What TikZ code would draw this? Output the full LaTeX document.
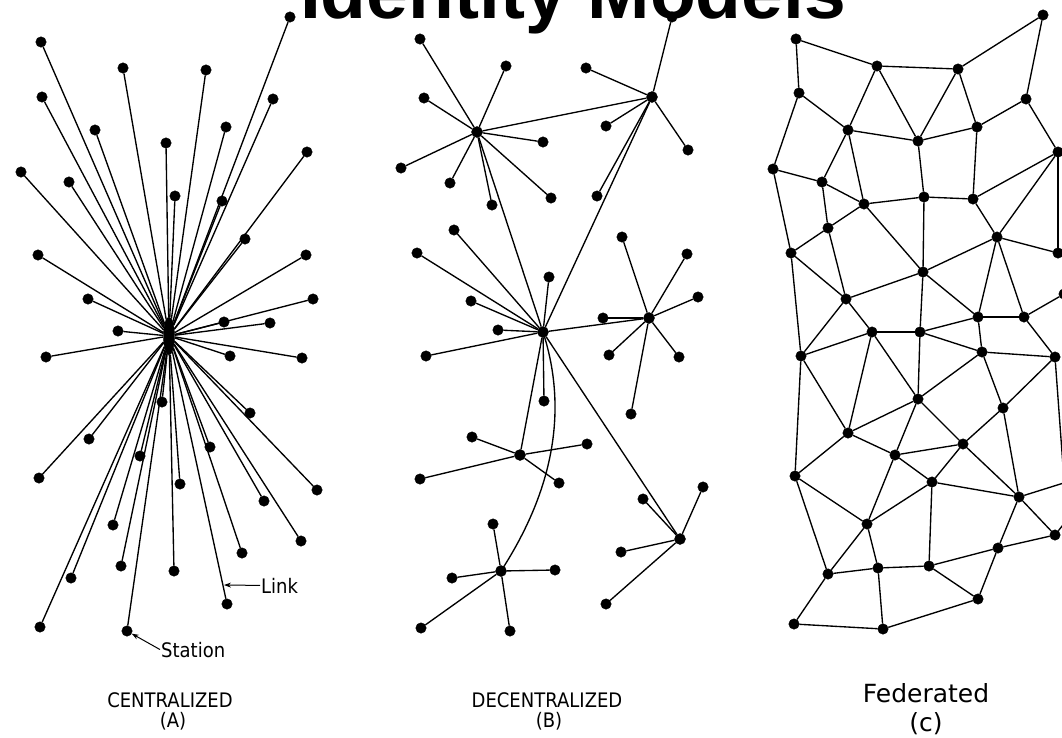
\documentclass[tikz,border=0pt]{standalone}
\usepackage{fontspec}
\setmainfont{DejaVu Sans}
\newfontfamily\titlefont{Liberation Sans}
\newfontfamily\letterfont{DejaVu Sans}[FakeStretch=0.9]
\usetikzlibrary{arrows.meta,shapes.geometric}

\newcommand*{\pw}{1062}
\newcommand*{\ph}{737}

\begin{document}
\begin{tikzpicture}
[
	x=1pt, y=-1pt,
	station/.style={circle,draw,fill,inner sep=0pt,minimum size=10.5pt},
	hubpt/.style={circle,draw,fill,inner sep=0pt,minimum size=11pt},
	centralhub/.style={ellipse,draw,fill,inner sep=0pt,minimum width=11pt,minimum height=38pt},
	link/.style={line width=1.35pt},
	pointer/.style={line width=1pt,-{Stealth[length=7pt,width=5pt]}},
	lettering/.style={font=\letterfont\fontsize{20}{24}\selectfont,anchor=base,inner sep=1pt},
	caption/.style={font=\fontsize{25}{30}\selectfont,anchor=base,inner sep=1pt}
]

	\useasboundingbox (0,0) rectangle (\pw,\ph);
	\clip (0,0) rectangle (\pw,\ph);

	% centralized (A)
	\node[centralhub] (hub) at (169,336) {};
	\foreach \x/\y [count=\i] in {41/42,123/68,206/70,290/17,42/97,273/99,95/130,226/127,
		166/143,307/152,21/172,69/182,175/196,222/201,245/239,38/255,306/255,88/299,313/299,
		224/322,270/323,118/331,46/357,230/356,302/358,162/402,250/413,89/439,210/447,140/456,
		39/478,180/484,317/490,264/501,113/525,301/541,242/553,121/566,174/571,71/578,227/604,
		40/627,127/631}
	{
		\node[station] (c\i) at (\x,\y) {};
		\draw[link] (hub) -- (c\i);
	}
	\coordinate (linkpt) at (224,585);
	\node[lettering,anchor=base west] (linklabel) at (260,593) {Link};
	\node[lettering,anchor=base west] (stationlabel) at (160,657) {Station};
	\draw[pointer] (linklabel.west) -- (linkpt);
	\draw[pointer] (stationlabel.west) -- (c43);

	% decentralized (B)
	\node[hubpt] (dh1) at (477,132) {};
	\node[hubpt] (dh2) at (652,97) {};
	\node[hubpt] (dh3) at (543,332) {};
	\node[hubpt] (dh4) at (649,318) {};
	\node[hubpt] (dh5) at (520,455) {};
	\node[hubpt] (dh6) at (501,571) {};
	\node[hubpt] (dh7) at (680,539) {};
	\foreach \a/\b in {dh1/dh2,dh1/dh3,dh2/dh3,dh3/dh4,dh3/dh5,dh3/dh7}
		\draw[link] (\a) -- (\b);
	\draw[link] (dh3.center) .. controls (565,400) and (560,480) .. (dh6.center);
	\foreach \x/\y/\h [count=\i] in {420/39/dh1,506/66/dh1,424/98/dh1,543/142/dh1,401/168/dh1,
		450/183/dh1,551/198/dh1,492/205/dh1,
		672/17/dh2,586/68/dh2,606/126/dh2,688/150/dh2,597/196/dh2,
		454/230/dh3,417/253/dh3,549/277/dh3,471/301/dh3,498/330/dh3,426/356/dh3,544/401/dh3,
		622/237/dh4,687/254/dh4,698/297/dh4,603/318/dh4,609/355/dh4,679/357/dh4,631/414/dh4,
		472/437/dh5,587/444/dh5,420/479/dh5,559/483/dh5,
		493/524/dh6,452/578/dh6,555/570/dh6,421/628/dh6,510/631/dh6,
		643/499/dh7,703/487/dh7,621/552/dh7,606/604/dh7}
	{
		\node[station] (d\i) at (\x,\y) {};
		\draw[link] (\h) -- (d\i);
	}

	% federated (c)
	\foreach \x/\y [count=\i] in {796/39,877/66,958/69,1043/15,799/93,1026/99,848/130,977/127,
		918/141,1058/152,773/169,822/182,864/204,924/197,973/199,828/228,997/237,791/253,
		1058/253,923/272,846/299,978/317,1024/317,1064/294,872/332,920/332,801/356,982/352,
		1055/357,918/399,1003/408,848/433,963/444,895/455,795/476,932/482,1019/497,867/524,
		1055/535,998/548,828/574,878/568,929/566,978/599,794/624,883/629}
		\node[station] (f\i) at (\x,\y) {};
	\coordinate (fx1) at (1064,480);
	\coordinate (fx2) at (1070,481);
	\coordinate (fx3) at (1070,516);
	\foreach \a/\b in {1/2,1/5,2/3,2/7,2/9,3/4,3/9,3/8,4/6,6/8,6/10,5/7,5/11,7/9,7/12,7/13,
		9/8,9/14,8/15,10/15,10/17,10/19,11/12,11/18,12/16,12/13,13/14,14/15,15/17,14/20,
		13/20,16/13,16/18,16/21,18/21,18/27,21/20,20/17,17/19,17/22,17/23,20/26,20/22,
		21/25,21/27,22/23,23/24,23/29,25/26,25/27,25/30,25/32,26/22,26/28,26/30,22/28,
		28/29,28/30,28/31,29/31,27/35,27/32,30/32,30/34,30/33,31/33,31/37,34/33,32/34,
		32/35,33/36,33/37,35/38,35/41,34/36,34/38,36/37,37/39,37/40,40/39,40/43,40/44,
		36/38,36/43,38/41,38/42,41/42,42/43,43/44,41/45,42/46,45/46,46/44}
		\draw[link] (f\a) -- (f\b);
	\draw[link] (f29) -- (fx1);
	\draw[link] (f37) -- (fx2);
	\draw[link] (f39) -- (fx3);

	% captions
	\node[lettering] (capA) at (170,707) {CENTRALIZED};
	\node[lettering] (capAtag) at (173,727) {(A)};
	\node[lettering] (capB) at (547,707) {DECENTRALIZED};
	\node[lettering] (capBtag) at (549,727) {(B)};
	\node[caption] (capC) at (926,702) {Federated};
	\node[caption] (capCtag) at (926,731) {(c)};

	% title
	\node[font=\titlefont\bfseries\fontsize{75}{75}\selectfont,anchor=base,inner sep=0pt] (title)
		at (573,18) {Identity Models};

\end{tikzpicture}
\end{document}
